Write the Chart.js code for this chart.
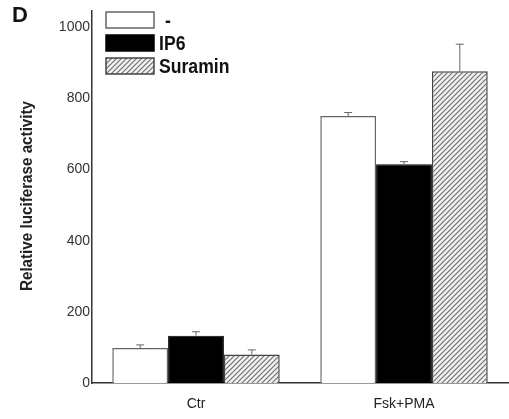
<!DOCTYPE html>
<html>
<head>
<meta charset="utf-8">
<script src="https://cdn.jsdelivr.net/npm/chart.js@4"></script>
<style>
  html, body { margin: 0; padding: 0; background: #fff; }
  #wrap { width: 509px; height: 419px; position: relative; }
</style>
</head>
<body>
<div id="wrap"><canvas id="myChart"></canvas></div>
<script>
var categories = ["Ctr", "Fsk+PMA"];
var seriesNames = ["-", "IP6", "Suramin"];
var valsNone = [98, 750];
var valsIP6 = [133, 615];
var valsSuramin = [80, 876];
var errNone = [9, 10];
var errIP6 = [11, 7];
var errSuramin = [13, 76];
var yTicks = [0, 200, 400, 600, 800, 1000];

// diagonal hatch for Suramin
function hatch() {
  var c = document.createElement("canvas");
  c.width = 5; c.height = 5;
  var g = c.getContext("2d");
  g.fillStyle = "#f2f2f2";
  g.fillRect(0, 0, 5, 5);
  g.strokeStyle = "#707070";
  g.lineWidth = 1.2;
  g.beginPath();
  g.moveTo(-1, 6); g.lineTo(6, -1);
  g.moveTo(-1, 1); g.lineTo(1, -1);
  g.moveTo(4, 6); g.lineTo(6, 4);
  g.stroke();
  return g.createPattern(c, "repeat");
}
var hatchFill = hatch();

var errs = [errNone, errIP6, errSuramin];
var FONT = "'Liberation Sans', Arial, sans-serif";

var extras = {
  id: "extras",
  afterDatasetsDraw: function (chart) {
    var ctx = chart.ctx;
    var y = chart.scales.y;
    ctx.save();
    ctx.strokeStyle = "#666";
    ctx.lineWidth = 1;
    chart.data.datasets.forEach(function (ds, i) {
      chart.getDatasetMeta(i).data.forEach(function (bar, j) {
        var top = y.getPixelForValue(ds.data[j] + errs[i][j]);
        ctx.beginPath();
        ctx.moveTo(bar.x, bar.y);
        ctx.lineTo(bar.x, top);
        ctx.moveTo(bar.x - 4, top);
        ctx.lineTo(bar.x + 4, top);
        ctx.stroke();
      });
    });
    ctx.restore();
  },
  afterDraw: function (chart) {
    var ctx = chart.ctx;
    ctx.save();
    // panel letter
    ctx.fillStyle = "#111";
    ctx.font = "bold 22px " + FONT;
    ctx.textBaseline = "middle";
    ctx.textAlign = "left";
    ctx.fillText("D", 12, 16);
    // y title
    ctx.translate(28, 196);
    ctx.rotate(-Math.PI / 2);
    ctx.scale(0.95, 1);
    ctx.textAlign = "center";
    ctx.font = "bold 16px " + FONT;
    ctx.fillStyle = "#222";
    ctx.fillText("Relative luciferase activity", 0, 0);
    ctx.restore();
    // legend
    ctx.save();
    var rows = [12, 35, 58];
    chart.data.datasets.forEach(function (ds, i) {
      ctx.fillStyle = ds.backgroundColor;
      ctx.fillRect(106, rows[i], 48, 16);
      ctx.strokeStyle = ds.borderColor;
      ctx.lineWidth = 1.5;
      ctx.strokeRect(106, rows[i], 48, 16);
      ctx.save();
      ctx.translate(i == 0 ? 165 : 159, rows[i] + 9);
      ctx.scale(0.88, 1);
      ctx.fillStyle = "#111";
      ctx.font = "bold 20px " + FONT;
      ctx.textBaseline = "middle";
      ctx.textAlign = "left";
      ctx.fillText(ds.label, 0, 0);
      ctx.restore();
    });
    ctx.restore();
  }
};

var canvas = document.getElementById("myChart");
var chart = new Chart(canvas, {
  type: "bar",
  data: {
    labels: categories,
    datasets: [
      { label: seriesNames[0], data: valsNone, backgroundColor: "#ffffff", borderColor: "#666", borderWidth: 1.5 },
      { label: seriesNames[1], data: valsIP6, backgroundColor: "#000000", borderColor: "#000", borderWidth: 1 },
      { label: seriesNames[2], data: valsSuramin, backgroundColor: hatchFill, borderColor: "#444", borderWidth: 1.5 }
    ]
  },
  options: {
    responsive: true,
    maintainAspectRatio: false,
    animation: false,
    layout: { padding: { top: 5, right: 1, left: 0, bottom: 0 } },
    plugins: { legend: { display: false }, tooltip: { enabled: false } },
    datasets: { bar: { barPercentage: 1, categoryPercentage: 0.805, borderSkipped: "bottom" } },
    scales: {
      x: {
        grid: { display: false, drawTicks: false },
        border: { color: "#333", width: 1.5 },
        ticks: { color: "#222", padding: 13, font: { family: FONT, size: 14 } },
        afterFit: function (s) { s.height = 36; }
      },
      y: {
        min: 0,
        max: 1047,
        grid: { display: false, drawTicks: false },
        border: { color: "#333", width: 1.5 },
        ticks: {
          color: "#333", padding: 2, font: { family: FONT, size: 14 },
          callback: function (v) { return String(v); }
        },
        afterBuildTicks: function (s) { s.ticks = yTicks.map(function (v) { return { value: v }; }); },
        afterFit: function (s) { s.width = 92; }
      }
    }
  },
  plugins: [extras]
});
</script>
</body>
</html>
